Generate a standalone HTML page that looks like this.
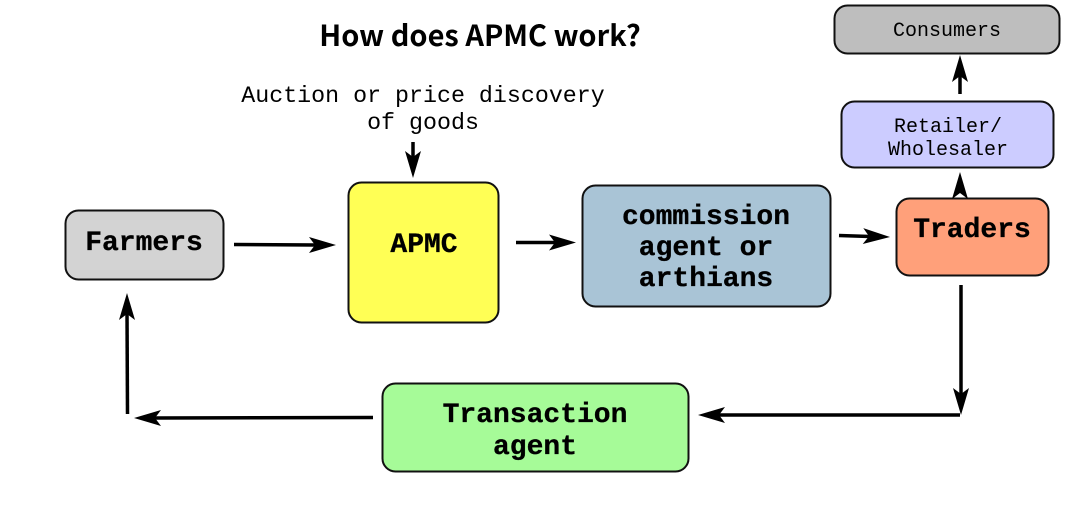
<!DOCTYPE html>
<html><head><meta charset="utf-8"><style>
html,body{margin:0;padding:0;background:#fff}
svg{display:block}
.m{font-family:"Liberation Mono",monospace;text-anchor:middle;fill:#000}
.b{font-weight:bold;font-size:28px;stroke:#000;stroke-width:.3}
.s{font-size:20px}
.a{font-size:23.3px}
rect{stroke:#111;stroke-width:2}
.l{stroke:#000;stroke-width:3.5;fill:none}
</style></head><body>
<svg width="1085" height="514" viewBox="0 0 1085 514" xmlns="http://www.w3.org/2000/svg">
<defs>
<path id="h" d="M0 0L-27 -8L-21 0L-27 8Z" fill="#000"/>
</defs>
<text x="480" y="46" font-family="'Noto Sans CJK KR','Liberation Sans',sans-serif" font-weight="700" font-size="29" text-anchor="middle" fill="#000">How does APMC work?</text>
<text class="m a" x="423" y="102">Auction or price discovery</text>
<text class="m a" x="423" y="129">of goods</text>

<rect x="65.500" y="210.500" width="158" height="69" rx="13" fill="#d3d3d3"/>
<rect x="348.500" y="182.500" width="150" height="140" rx="13" fill="#ffff55"/>
<rect x="582.500" y="185.500" width="248" height="121" rx="13" fill="#a9c4d6"/>
<rect x="896.500" y="198.500" width="152" height="77" rx="13" fill="#ffa07a"/>
<rect x="841.500" y="101.500" width="212" height="66" rx="13" fill="#ccccff"/>
<rect x="834.500" y="5.500" width="225" height="48" rx="13" fill="#bebebe"/>
<rect x="382.500" y="383.500" width="306" height="88" rx="13" fill="#a6fb98"/>

<text class="m b" x="144" y="250">Farmers</text>
<text class="m b" x="424" y="252">APMC</text>
<text class="m b" x="706" y="224">commission</text>
<text class="m b" x="706" y="255">agent or</text>
<text class="m b" x="706" y="286">arthians</text>
<text class="m b" x="972" y="237">Traders</text>
<text class="m s" x="948" y="132">Retailer/</text>
<text class="m s" x="948" y="155">Wholesaler</text>
<text class="m s" x="947" y="36">Consumers</text>
<text class="m b" x="535" y="422">Transaction</text>
<text class="m b" x="535" y="454">agent</text>

<path class="l" d="M234 244.500L315 245"/><use href="#h" transform="translate(336,245)"/>
<path class="l" d="M516 242.500L555 242.500"/><use href="#h" transform="translate(576,242.500)"/>
<path class="l" d="M839 235.500L870 236.500"/><use href="#h" transform="translate(890,237) rotate(2)"/>
<path class="l" d="M413 142L413 160"/><use href="#h" transform="translate(413,178) rotate(90)"/>
<path class="l" d="M960 94L960 75"/><use href="#h" transform="translate(960,55) rotate(-90)"/>
<use href="#h" transform="translate(960,172) rotate(-90)"/>
<path class="l" d="M961 285L961 395"/><use href="#h" transform="translate(961,415) rotate(90)"/>
<path class="l" d="M960 415L718 415"/><use href="#h" transform="translate(698,415) rotate(180)"/>
<path class="l" d="M373 417.500L155 418"/><use href="#h" transform="translate(134,418) rotate(180)"/>
<path class="l" d="M127.500 414L127 312"/><use href="#h" transform="translate(127,293) rotate(-90)"/>
</svg>
</body></html>
